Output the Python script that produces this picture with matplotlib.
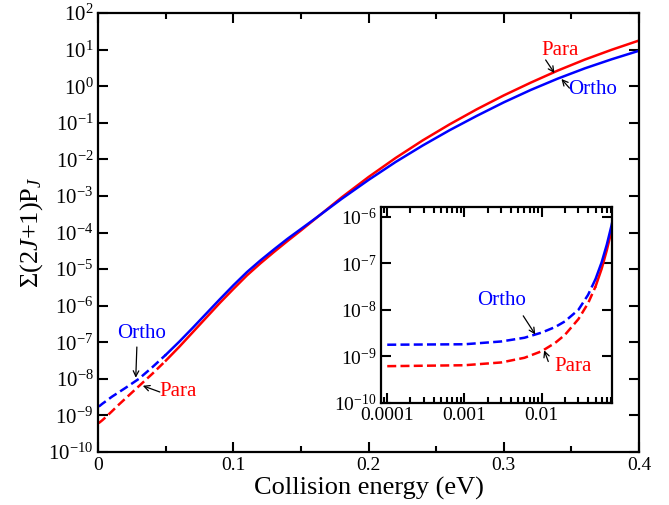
import numpy as np
import matplotlib
matplotlib.use("Agg")
import matplotlib.pyplot as plt
from matplotlib.ticker import LogLocator, NullLocator, NullFormatter, FixedLocator

plt.rcParams['font.family'] = ['Liberation Serif', 'DejaVu Serif']
plt.rcParams['mathtext.fontset'] = 'custom'
plt.rcParams['mathtext.rm'] = 'Liberation Serif'
plt.rcParams['mathtext.it'] = 'Liberation Serif:italic'

# collision energy (eV) and log10 of sum (2J+1)P_J
energy = [0.0, 1e-4, 1e-3, 3e-3, 6e-3, 0.01, 0.015, 0.02, 0.03, 0.04, 0.05,
          0.06, 0.07, 0.08, 0.09, 0.1, 0.11, 0.12, 0.13, 0.14, 0.15, 0.16,
          0.18, 0.2, 0.22, 0.24, 0.26, 0.28, 0.3, 0.32, 0.34, 0.36, 0.38, 0.4]
log_ortho = [-8.75, -8.75, -8.74, -8.68, -8.60, -8.49, -8.37, -8.25, -8.00, -7.68, -7.34,
             -6.98, -6.60, -6.21, -5.82, -5.44, -5.08, -4.76, -4.46, -4.17, -3.90, -3.63,
             -3.08, -2.56, -2.07, -1.62, -1.20, -0.81, -0.44, -0.10, 0.21, 0.49, 0.74, 0.97]
log_para = [-9.21, -9.21, -9.19, -9.13, -9.03, -8.89, -8.71, -8.54, -8.20, -7.86, -7.50,
            -7.12, -6.72, -6.32, -5.92, -5.54, -5.17, -4.84, -4.53, -4.23, -3.94, -3.64,
            -3.04, -2.48, -1.96, -1.48, -1.04, -0.63, -0.25, 0.10, 0.43, 0.73, 1.00, 1.25]

e = np.array(energy)
ortho = 10.0 ** np.array(log_ortho)
para = 10.0 ** np.array(log_para)
cut = 0.05  # dashed below this energy
lo = e <= cut
hi = e >= cut

fig = plt.figure(figsize=(6.69, 5.05), dpi=100)
ax = fig.add_axes([0.147, 0.105, 0.808, 0.869])

lw = 1.8
dash = (0, (3.6, 1.7))
ax.plot(e[lo], ortho[lo], color='#0000ff', lw=lw, ls=dash)
ax.plot(e[lo], para[lo], color='#ff0000', lw=lw, ls=dash)
ax.plot(e[hi], para[hi], color='#ff0000', lw=lw)
ax.plot(e[hi], ortho[hi], color='#0000ff', lw=lw)

ax.set_yscale('log')
ax.set_xlim(0, 0.4)
ax.set_ylim(1e-10, 1e2)
ax.set_xticks([0, 0.1, 0.2, 0.3, 0.4])
ax.set_xticklabels(['0', '0.1', '0.2', '0.3', '0.4'])
ax.set_xticks([0.05, 0.15, 0.25, 0.35], minor=True)
ax.yaxis.set_major_locator(LogLocator(base=10, numticks=20))
ax.yaxis.set_minor_locator(NullLocator())
ax.tick_params(which='both', direction='in', top=True, right=True, width=1.5)
ax.tick_params(axis='x', labelsize=14)
ax.tick_params(axis='y', labelsize=15)
ax.tick_params(which='major', length=7)
ax.tick_params(which='minor', length=4)
for s in ax.spines.values():
    s.set_linewidth(1.6)

ax.set_xlabel('Collision energy (eV)', fontsize=19, labelpad=2)
ax.set_ylabel(r'$\Sigma(2\mathit{J}$+1)P$_{\mathit{J}}$', fontsize=19, labelpad=2)

arr = dict(arrowstyle='->', color='black', lw=0.9, shrinkA=0, shrinkB=0)
fs = 15
ax.text(0.032, 10**-6.77, 'Ortho', color='#0000ff', fontsize=fs, ha='center', va='center')
ax.annotate('', xy=(0.0277, 10**-7.97), xytext=(0.0285, 10**-7.13), arrowprops=arr)
ax.text(0.0588, 10**-8.36, 'Para', color='#ff0000', fontsize=fs, ha='center', va='center')
ax.annotate('', xy=(0.0329, 10**-8.19), xytext=(0.0455, 10**-8.36), arrowprops=arr)
ax.text(0.342, 10**0.99, 'Para', color='#ff0000', fontsize=fs, ha='center', va='center')
ax.annotate('', xy=(0.3375, 10**0.36), xytext=(0.331, 10**0.72), arrowprops=arr)
ax.text(0.366, 10**-0.08, 'Ortho', color='#0000ff', fontsize=fs, ha='center', va='center')
ax.annotate('', xy=(0.3427, 10**0.20), xytext=(0.3486, 10**-0.05), arrowprops=arr)

# inset, log energy axis
ins = fig.add_axes([0.5695, 0.202, 0.3455, 0.388])
ins.plot(e[lo][1:], ortho[lo][1:], color='#0000ff', lw=lw, ls=dash)
ins.plot(e[lo][1:], para[lo][1:], color='#ff0000', lw=lw, ls=dash)
ins.plot(e[hi], para[hi], color='#ff0000', lw=lw)
ins.plot(e[hi], ortho[hi], color='#0000ff', lw=lw)
ins.set_xscale('log')
ins.set_yscale('log')
ins.set_xlim(8.3e-5, 0.082)
ins.set_ylim(1e-10, 1.6e-6)
ins.xaxis.set_major_locator(FixedLocator([1e-4, 1e-3, 1e-2]))
ins.set_xticklabels(['0.0001', '0.001', '0.01'])
ins.xaxis.set_minor_locator(LogLocator(base=10, subs=np.arange(2, 10), numticks=20))
ins.xaxis.set_minor_formatter(NullFormatter())
ins.yaxis.set_major_locator(LogLocator(base=10, numticks=20))
ins.yaxis.set_minor_locator(NullLocator())
ins.tick_params(which='both', direction='in', top=True, right=True, width=1.5, labelsize=14, pad=3)
ins.tick_params(which='major', length=7)
ins.tick_params(which='minor', length=4)
for s in ins.spines.values():
    s.set_linewidth(1.6)

ins.text(0.0030, 10**-7.81, 'Ortho', color='#0000ff', fontsize=fs, ha='center', va='center')
ins.annotate('', xy=(0.00828, 10**-8.53), xytext=(0.00578, 10**-8.13), arrowprops=arr)
ins.text(0.0258, 10**-9.21, 'Para', color='#ff0000', fontsize=fs, ha='center', va='center')
ins.annotate('', xy=(0.0108, 10**-8.87), xytext=(0.0122, 10**-9.11), arrowprops=arr)

fig.savefig('out.png', dpi=100)
